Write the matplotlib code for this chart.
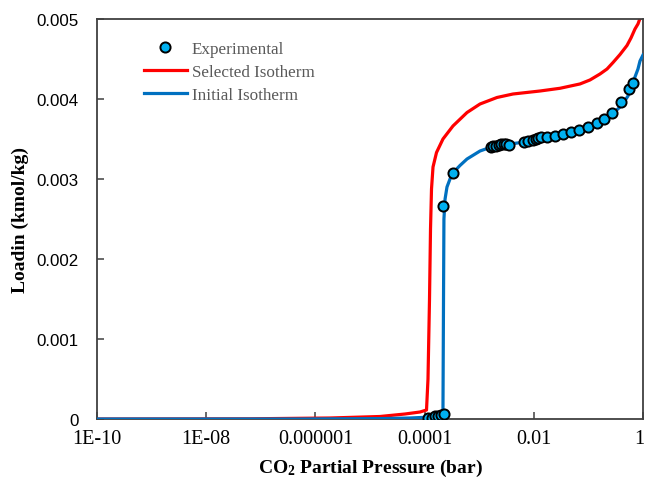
import matplotlib
matplotlib.use("Agg")
import matplotlib.pyplot as plt
from matplotlib.transforms import ScaledTranslation

plt.rcParams["mathtext.default"] = "regular"

# Experimental CO2 loading
exp_p = [1.154e-4, 1.338e-4, 1.550e-4, 1.797e-4, 2.039e-4, 2.314e-4,
         2.145e-4, 3.354e-4,
         1.611e-3, 1.812e-3, 2.056e-3, 2.305e-3, 2.561e-3, 2.846e-3, 3.162e-3, 3.557e-3,
         6.478e-3, 7.99e-3, 9.55e-3, 1.097e-2, 1.219e-2, 1.355e-2, 1.722e-2, 2.445e-2,
         3.470e-2, 4.80e-2, 6.87e-2, 9.83e-2, 0.1408, 0.1956, 0.274, 0.3955, 0.554, 0.648]
exp_q = [0.0000063, 0.0000163, 0.0000313, 0.0000413, 0.0000538, 0.0000625,
         0.002659, 0.003071,
         0.003396, 0.003409, 0.003416, 0.003429, 0.003434, 0.003434, 0.003434, 0.003429,
         0.003459, 0.003473, 0.003488, 0.003494, 0.003509, 0.003519, 0.003519, 0.003538,
         0.003559, 0.003588, 0.003615, 0.00365, 0.0037, 0.003744, 0.003821, 0.003966,
         0.004125, 0.004196]

# Selected isotherm
sel_p = [1e-10, 6.34e-8, 1.85e-6, 1.52e-5, 4.38e-5, 8.24e-5, 1.084e-4, 1.154e-4,
         1.23e-4, 1.283e-4, 1.338e-4, 1.426e-4, 1.652e-4, 2.17e-4, 3.31e-4, 5.98e-4,
         1.035e-3, 2.12e-3, 4.16e-3, 1.30e-2, 3.02e-2, 7.01e-2, 0.107, 0.163, 0.2193,
         0.2825, 0.379, 0.509, 0.6026, 0.713, 0.809, 0.918]
sel_q = [0.0, 0.0000025, 0.0000125, 0.00003125, 0.0000625, 0.0000875, 0.0001125, 0.0005,
         0.0015, 0.002375, 0.002875, 0.00315, 0.003331, 0.0035, 0.003663, 0.003831,
         0.0039375, 0.004019, 0.0040625, 0.0041, 0.004134, 0.004188, 0.004238, 0.0043125,
         0.004375, 0.004456, 0.004556, 0.004669, 0.004763, 0.004875, 0.004938, 0.00504]

# Initial isotherm
ini_p = [1e-10, 5.22e-7, 1.52e-5, 5.41e-5, 1.016e-4, 1.55e-4, 2.0e-4, 2.17e-4,
         2.22e-4, 2.26e-4, 2.37e-4, 2.57e-4, 2.92e-4, 3.35e-4, 4.45e-4, 5.98e-4,
         1.035e-3, 1.578e-3, 2.97e-3, 8.51e-3, 3.02e-2, 7.01e-2, 0.132, 0.2286, 0.379,
         0.449, 0.531, 0.630, 0.713, 0.809, 0.881, 1.0]
ini_q = [0.0, 0.0, 0.000005, 0.0000125, 0.000021, 0.000034, 0.000056, 0.000125,
         0.0015, 0.0025, 0.00275, 0.0029, 0.003, 0.00308, 0.003169, 0.00325,
         0.00335, 0.003394, 0.003431, 0.003469, 0.003525, 0.003581, 0.003663, 0.003763,
         0.0039, 0.0039625, 0.004038, 0.0041625, 0.004275, 0.004375, 0.004475, 0.00455]

x_ticks = [1e-10, 1e-8, 1e-6, 1e-4, 1e-2, 1]
x_tick_labels = ["1E-10", "1E-08", "0.000001", "0.0001", "0.01", "1"]
y_ticks = [0, 0.001, 0.002, 0.003, 0.004, 0.005]
y_tick_labels = ["0", "0.001", "0.002", "0.003", "0.004", "0.005"]

SERIF = ["Liberation Serif", "DejaVu Serif"]
SANS = ["Liberation Sans", "DejaVu Sans"]
AXIS_GRAY = "#404040"

fig = plt.figure(figsize=(6.46, 4.81), dpi=100)
ax = fig.add_axes([97 / 646, 61 / 481, 546 / 646, 400 / 481])

ax.plot(sel_p, sel_q, color="#FF0000", lw=2.3, label="Selected Isotherm", zorder=2)
ax.plot(ini_p, ini_q, color="#0070C0", lw=2.3, label="Initial Isotherm", zorder=3)
ax.plot(exp_p, exp_q, ls="none", marker="o", ms=7.3, mfc="#00B0F0", mec="black",
        mew=1.4, label="Experimental", zorder=4)

ax.set_xscale("log")
ax.set_xlim(1e-10, 1)
ax.set_ylim(0, 0.005)
ax.minorticks_off()
ax.set_xticks(x_ticks)
ax.set_xticklabels(x_tick_labels, family=SERIF, fontsize=14.5)
ax.set_yticks(y_ticks)
ax.set_yticklabels(y_tick_labels, family=SANS, fontsize=12.2)

ax.tick_params(axis="both", direction="in", length=5, width=1.1, color=AXIS_GRAY,
               labelcolor="black")
ax.tick_params(axis="x", pad=7)
ax.tick_params(axis="y", pad=13)

# keep the last x label inside the canvas
last = ax.get_xticklabels()[-1]
last.set_transform(last.get_transform() + ScaledTranslation(-4 / 100, 0, fig.dpi_scale_trans))

for sp in ax.spines.values():
    sp.set_color(AXIS_GRAY)
    sp.set_linewidth(1.3)

ax.set_xlabel("CO$_{2}$ Partial Pressure (bar)", family=SERIF, fontsize=14,
              fontweight="bold")
ax.set_ylabel("Loadin (kmol/kg)", family=SERIF, fontsize=14, fontweight="bold")
ax.xaxis.set_label_coords(0.5, -0.12)
ax.xaxis.label.set_va("center")
ax.yaxis.set_label_coords(-0.141, 0.5)
ax.yaxis.label.set_va("center")

handles, labels = ax.get_legend_handles_labels()
order = [2, 0, 1]
leg = ax.legend([handles[i] for i in order], [labels[i] for i in order],
                loc="upper left", bbox_to_anchor=(0.086, 0.945), frameon=False,
                prop={"family": SERIF, "size": 12.3}, numpoints=1,
                handlelength=2.5, handletextpad=0.3, labelspacing=0.42,
                borderpad=0, borderaxespad=0)
for t in leg.get_texts():
    t.set_color("#595959")

fig.savefig("out.png", dpi=100)
